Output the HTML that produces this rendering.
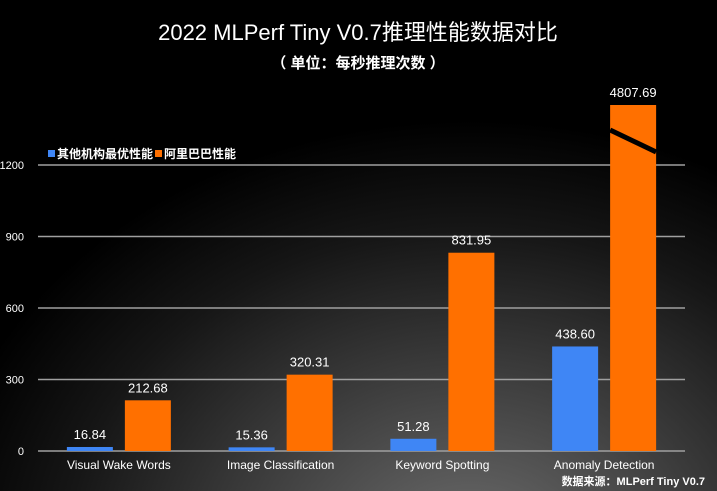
<!DOCTYPE html>
<html><head><meta charset="utf-8">
<style>
html,body{margin:0;padding:0;}
body{width:717px;height:491px;overflow:hidden;background:#000;font-family:"Liberation Sans","Noto Sans CJK SC",sans-serif;}
#wrap{position:relative;width:717px;height:491px;background:radial-gradient(ellipse 540px 440px at 470px 560px,#707070 0%,#404040 40%,#161616 75%,#000 100%);}
svg{position:absolute;left:0;top:0;}
</style></head><body>
<div id="wrap">
<svg id="chart" width="717" height="491">
<text x="358" y="40" fill="#fff" font-size="22" text-anchor="middle">2022 MLPerf Tiny V0.7推理性能数据对比</text>
<text x="358" y="68" fill="#fff" font-size="15" font-weight="bold" text-anchor="middle">（ 单位：每秒推理次数 ）</text>
<g>
<rect x="48" y="150" width="7" height="7" fill="#3f86f5"/>
<text x="57" y="158" fill="#fff" font-size="12" font-weight="bold">其他机构最优性能</text>
<rect x="155" y="150" width="7" height="7" fill="#ff7000"/>
<text x="164" y="158" fill="#fff" font-size="12" font-weight="bold">阿里巴巴性能</text>
</g>
<text x="705" y="485" fill="#fff" font-size="11" font-weight="600" text-anchor="end">数据来源：MLPerf Tiny V0.7</text>
</svg>
</div>
<script>
const categories=["Visual Wake Words","Image Classification","Keyword Spotting","Anomaly Detection"];
const othersValues=[16.84,15.36,51.28,438.60];
const alibabaValues=[212.68,320.31,831.95,4807.69];
const yTicks=[0,300,600,900,1200];
const ns="http://www.w3.org/2000/svg";
const svg=document.getElementById('chart');
const x0=38,x1=685,y0=451,yMaxV=1200,yTop=165,clipTop=105;
const band=(x1-x0)/categories.length;
function yScale(v){return y0-(v/yMaxV)*(y0-yTop);}
function mk(t,a){const e=document.createElementNS(ns,t);for(const k in a)e.setAttribute(k,a[k]);svg.appendChild(e);return e;}
yTicks.forEach(function(t){
  const y=yScale(t);
  const g=mk('line',{x1:x0,x2:x1,y1:y,y2:y,stroke:'#a0a0a0','stroke-width':1.5});
  
  
  const l=mk('text',{x:24,y:y+4,fill:'#fff','font-size':11,'text-anchor':'end'});
  l.textContent=t;
  
  
});
categories.forEach(function(c,i){
  const cx=x0+band*i+band/2;
  const series=[[othersValues[i],'#3f86f5',cx-52,'others'],[alibabaValues[i],'#ff7000',cx+6,'alibaba']];
  series.forEach(function(s){
    let y=yScale(s[0]);let broken=false;
    if(y<clipTop){y=clipTop;broken=true;}
    const r=mk('rect',{x:s[2],y:y,width:46,height:y0-y,fill:s[1]});
    
    
    if(broken){
      const b=mk('line',{x1:s[2],y1:y+25,x2:s[2]+46,y2:y+47,stroke:'#000','stroke-width':5});
      
      
    }
    const t=mk('text',{x:s[2]+23,y:y-8,fill:'#fff','font-size':13,'text-anchor':'middle'});
    t.textContent=s[0].toFixed(2);
    
    
  });
  const xl=mk('text',{x:cx,y:469,fill:'#fff','font-size':12,'text-anchor':'middle'});
  xl.textContent=c;
  
  
});
</script>
</body></html>
